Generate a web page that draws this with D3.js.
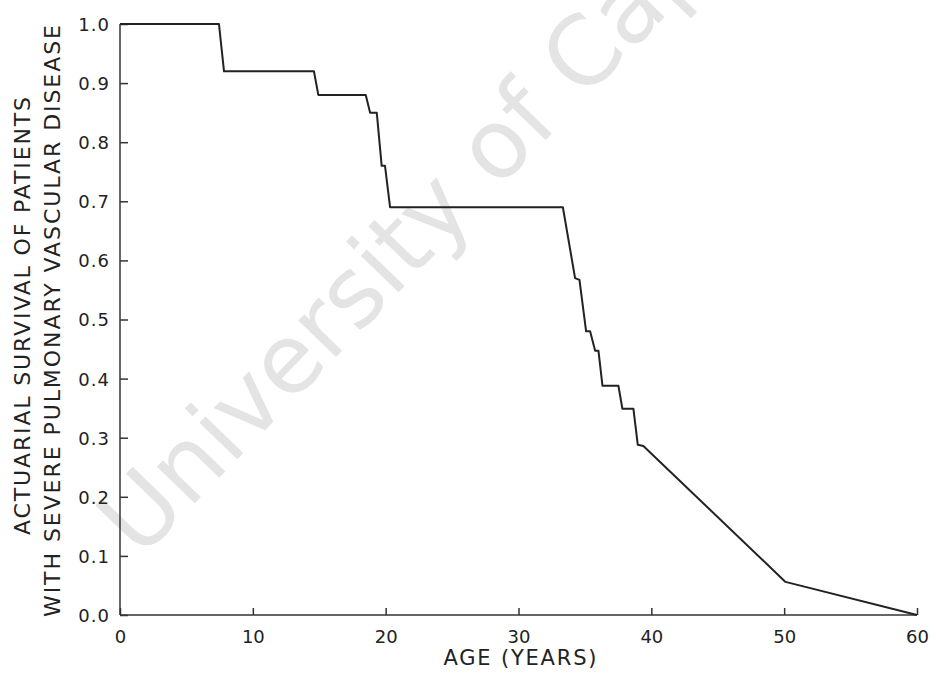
<!DOCTYPE html>
<html>
<head>
<meta charset="utf-8">
<script src="https://cdn.jsdelivr.net/npm/d3@7"></script>
<style>
  html, body { margin: 0; padding: 0; background: #fff; }
  svg { display: block; }
  text { font-family: "DejaVu Sans", "Liberation Sans", sans-serif; fill: #222; }
</style>
</head>
<body>
<svg id="chart" width="936" height="676"></svg>
<script>
// ---- data ----
const ages = [0, 7.45, 7.83, 14.6, 14.93, 18.5, 18.83, 19.33, 19.7, 19.95, 20.33,
              33.34, 34.26, 34.59, 35.09, 35.39, 35.77, 36.02, 36.32, 37.52, 37.82,
              38.65, 38.98, 39.4, 50.1, 60];
const survival = [1.0, 1.0, 0.92, 0.92, 0.88, 0.88, 0.85, 0.85, 0.76, 0.76, 0.69,
                  0.69, 0.57, 0.567, 0.48, 0.48, 0.447, 0.447, 0.388, 0.388, 0.349,
                  0.349, 0.288, 0.286, 0.056, 0.0];
const xTicks = [0, 10, 20, 30, 40, 50, 60];
const yTicks = [0.0, 0.1, 0.2, 0.3, 0.4, 0.5, 0.6, 0.7, 0.8, 0.9, 1.0];
const xTitle = "AGE (YEARS)";
const yTitleLines = ["ACTUARIAL SURVIVAL OF PATIENTS", "WITH SEVERE PULMONARY VASCULAR DISEASE"];
const watermark = "University of Cape";

const svg = d3.select("#chart");
const x = d3.scaleLinear().domain([0, 60]).range([120, 917]);
const y = d3.scaleLinear().domain([0, 1]).range([615, 24]);

// watermark
svg.append("text")
  .attr("transform", "translate(140,560) rotate(-46)")
  .attr("font-family", "Liberation Sans, Arial, sans-serif")
  .attr("font-size", 96)
  .style("fill", "#e4e4e4")
  .text(watermark);

// axes
const xAxis = d3.axisBottom(x).tickValues(xTicks).tickSize(-7).tickPadding(0)
  .tickFormat(d3.format("d"));
const gx = svg.append("g").attr("transform", `translate(0,${y(0)})`).call(xAxis);
gx.select(".domain").attr("d", `M${x(0)},0H${x(60)}`);
gx.selectAll("line, path").attr("stroke", "#333").attr("stroke-width", 1.5);
gx.selectAll("text").attr("font-size", 18).attr("y", 28).attr("dy", 0)
  .style("font-family", "DejaVu Sans, sans-serif").style("fill", "#222");

const yAxis = d3.axisLeft(y).tickValues(yTicks).tickSize(-8).tickPadding(0)
  .tickFormat(d3.format(".1f"));
const gy = svg.append("g").attr("transform", `translate(${x(0)},0)`).call(yAxis);
gy.select(".domain").attr("d", `M0,${y(0)}V${y(1)}`);
gy.selectAll("line, path").attr("stroke", "#333").attr("stroke-width", 1.5);
gy.selectAll("text").attr("font-size", 18).attr("x", -10).attr("dy", "0.36em")
  .attr("letter-spacing", 1)
  .style("font-family", "DejaVu Sans, sans-serif").style("fill", "#222");

// curve
const pts = ages.map((a, i) => [a, survival[i]]);
svg.append("path")
  .datum(pts)
  .attr("fill", "none")
  .attr("stroke", "#222")
  .attr("stroke-width", 2)
  .attr("stroke-linejoin", "round")
  .attr("d", d3.line().x(d => x(d[0])).y(d => y(d[1])));

// x title
svg.append("text")
  .attr("x", 520).attr("y", 665)
  .attr("text-anchor", "middle")
  .attr("font-size", 21)
  .attr("textLength", 153).attr("lengthAdjust", "spacing")
  .text(xTitle);

// y title (two lines)
const yLinePos = [{cx: 30, cy: 316, len: 438}, {cx: 60, cy: 321, len: 592}];
yTitleLines.forEach((t, i) => {
  svg.append("text")
    .attr("transform", `translate(${yLinePos[i].cx},${yLinePos[i].cy}) rotate(-90)`)
    .attr("text-anchor", "middle")
    .attr("font-size", 22)
    .attr("textLength", yLinePos[i].len).attr("lengthAdjust", "spacing")
    .text(t);
});
</script>
</body>
</html>
